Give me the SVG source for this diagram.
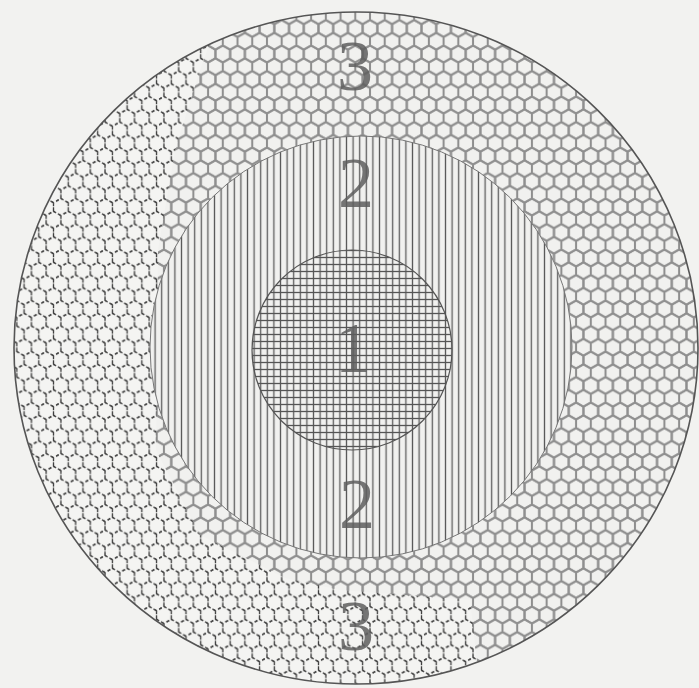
<svg xmlns="http://www.w3.org/2000/svg" xmlns:xlink="http://www.w3.org/1999/xlink" width="699" height="688" viewBox="0 0 699 688">
<style>
.lbl{font-family:"Liberation Serif","DejaVu Serif",serif;font-size:72px;fill:#5e5e5e;fill-opacity:0.85;text-anchor:middle}
</style>
<defs>
<path id="hx" d="M0,-8.5 L7.36,-4.25 L7.36,4.25 L0,8.5 L-7.36,4.25 L-7.36,-4.25 Z"/>
<pattern id="hexSolid" patternUnits="userSpaceOnUse" width="14.72" height="25.5" x="2" y="3">
<rect width="14.72" height="25.5" fill="#f1f1ef"/>
<g fill="none" stroke="#8e8e8e" stroke-width="2" stroke-linejoin="round">
<use xlink:href="#hx" x="7.36" y="12.75"/><use xlink:href="#hx" x="-7.36" y="12.75"/><use xlink:href="#hx" x="22.08" y="12.75"/>
<use xlink:href="#hx" x="0" y="0"/><use xlink:href="#hx" x="14.72" y="0"/><use xlink:href="#hx" x="0" y="25.5"/><use xlink:href="#hx" x="14.72" y="25.5"/>
</g>
</pattern>
<pattern id="hexDash" patternUnits="userSpaceOnUse" width="14.72" height="25.5" x="2" y="3">
<rect width="14.72" height="25.5" fill="#f4f4f2"/>
<g fill="none" stroke="#3c3c3c" stroke-width="1.3" stroke-dasharray="3 3.5">
<use xlink:href="#hx" x="7.36" y="12.75"/><use xlink:href="#hx" x="-7.36" y="12.75"/><use xlink:href="#hx" x="22.08" y="12.75"/>
<use xlink:href="#hx" x="0" y="0"/><use xlink:href="#hx" x="14.72" y="0"/><use xlink:href="#hx" x="0" y="25.5"/><use xlink:href="#hx" x="14.72" y="25.5"/>
</g>
</pattern>
<pattern id="vlines" patternUnits="userSpaceOnUse" width="6.6" height="10">
<rect width="6.6" height="10" fill="#f1f1ef"/>
<line x1="3.3" y1="0" x2="3.3" y2="10" stroke="#5a5a5a" stroke-width="1.3"/>
</pattern>
<pattern id="grid" patternUnits="userSpaceOnUse" width="6.6" height="7" y="2">
<rect width="6.6" height="7" fill="#f1f1ef"/>
<line x1="3.3" y1="0" x2="3.3" y2="7" stroke="#5a5a5a" stroke-width="1.3"/>
<line x1="0" y1="3.5" x2="6.6" y2="3.5" stroke="#555" stroke-width="1.3"/>
</pattern>
<clipPath id="leftPart">
<polygon points="0,0 225,0 200,70 175,150 158,250 156,450 200,535 285,578 340,590 470,600 480,688 0,688"/>
</clipPath>
</defs>
<rect width="699" height="688" fill="#f2f2f0"/>
<g id="ring3">
<ellipse cx="356" cy="348" rx="342" ry="336" fill="url(#hexSolid)"/>
<ellipse cx="356" cy="348" rx="342" ry="336" fill="url(#hexDash)" clip-path="url(#leftPart)"/>
<ellipse cx="356" cy="348" rx="342" ry="336" fill="none" stroke="#555" stroke-width="1.6"/>
</g>
<g id="ring2">
<ellipse cx="361" cy="347" rx="211" ry="211" fill="url(#vlines)"/>
<ellipse cx="361" cy="347" rx="211" ry="211" fill="none" stroke="#777" stroke-width="1"/>
</g>
<g id="core1">
<circle cx="352" cy="350" r="100" fill="url(#grid)" stroke="#555" stroke-width="1.2"/>
</g>
<g id="labels">
<text class="lbl" x="355" y="90">3</text>
<text class="lbl" x="356" y="207">2</text>
<text class="lbl" x="353" y="372">1</text>
<text class="lbl" x="357" y="528">2</text>
<text class="lbl" x="356" y="650">3</text>
</g>
</svg>
